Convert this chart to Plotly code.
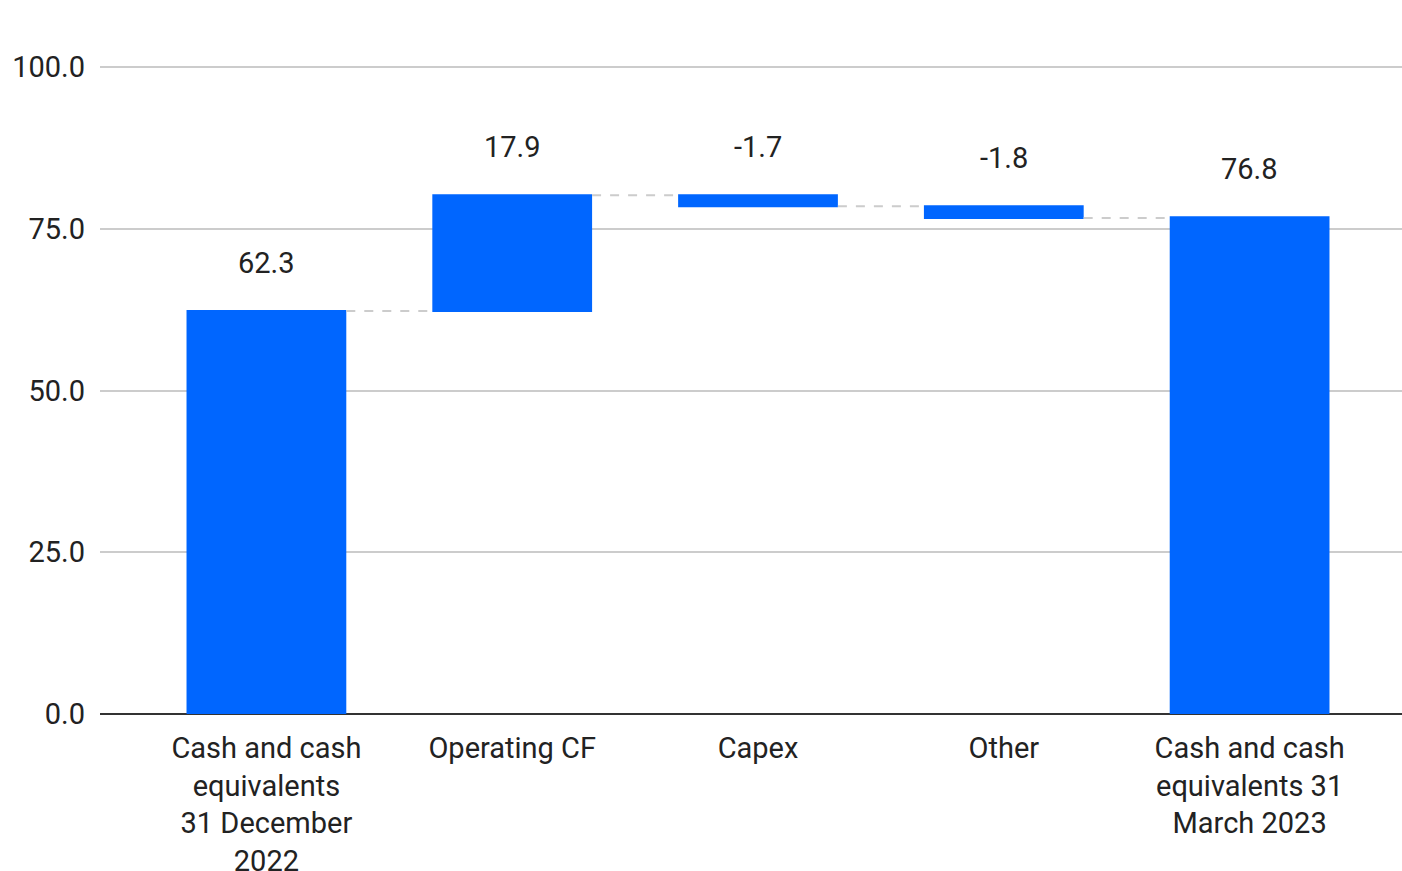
import plotly.graph_objects as go

categories = [
    "Cash and cash<br>equivalents<br>31 December<br>2022",
    "Operating CF",
    "Capex",
    "Other",
    "Cash and cash<br>equivalents 31<br>March 2023",
]
values = [62.3, 17.9, -1.7, -1.8, 76.8]
measures = ["absolute", "relative", "relative", "relative", "absolute"]
labels = ["62.3", "17.9", "-1.7", "-1.8", "76.8"]
tick_vals = [0, 25, 50, 75, 100]
tick_text = ["0.0", "25.0", "50.0", "75.0", "100.0"]

BLUE = "#0066FF"
FONT = "Roboto"
FS = 29

fig = go.Figure()
fig.add_trace(go.Waterfall(
    x=categories,
    y=values,
    measure=measures,
    increasing=dict(marker=dict(color=BLUE)),
    decreasing=dict(marker=dict(color=BLUE)),
    totals=dict(marker=dict(color=BLUE)),
    connector=dict(line=dict(color="#cccccc", width=2, dash="dash")),
    width=0.65,
    hoverinfo="skip",
))

# label positions: top of each bar from cumulative values
level = 0.0
tops = []
for v, m in zip(values, measures):
    if m == "absolute":
        start = 0.0
        level = v
    else:
        start = level
        level = level + v
    tops.append(max(start, level))

for c, t, lab in zip(categories, tops, labels):
    fig.add_annotation(x=c, y=t, text=lab, showarrow=False, yanchor="middle",
                       yshift=48, font=dict(family=FONT, size=FS, color="#222222"))

fig.update_layout(
    width=1402, height=871,
    margin=dict(l=100, r=0, t=66, b=157),
    paper_bgcolor="white", plot_bgcolor="white",
    showlegend=False,
    font=dict(family=FONT, size=FS, color="#222222"),
    xaxis=dict(range=[-0.677, 4.62], showgrid=False, ticks="", automargin=False,
               ticklabelstandoff=14, tickfont=dict(size=FS)),
    yaxis=dict(range=[0, 100.2], tickvals=tick_vals, ticktext=tick_text,
               showgrid=True, gridcolor="#cccccc", gridwidth=2, automargin=False,
               zeroline=True, zerolinecolor="#333333", zerolinewidth=2,
               ticks="", ticklabelstandoff=14, tickfont=dict(size=FS)),
)

fig.write_html("out.html")
